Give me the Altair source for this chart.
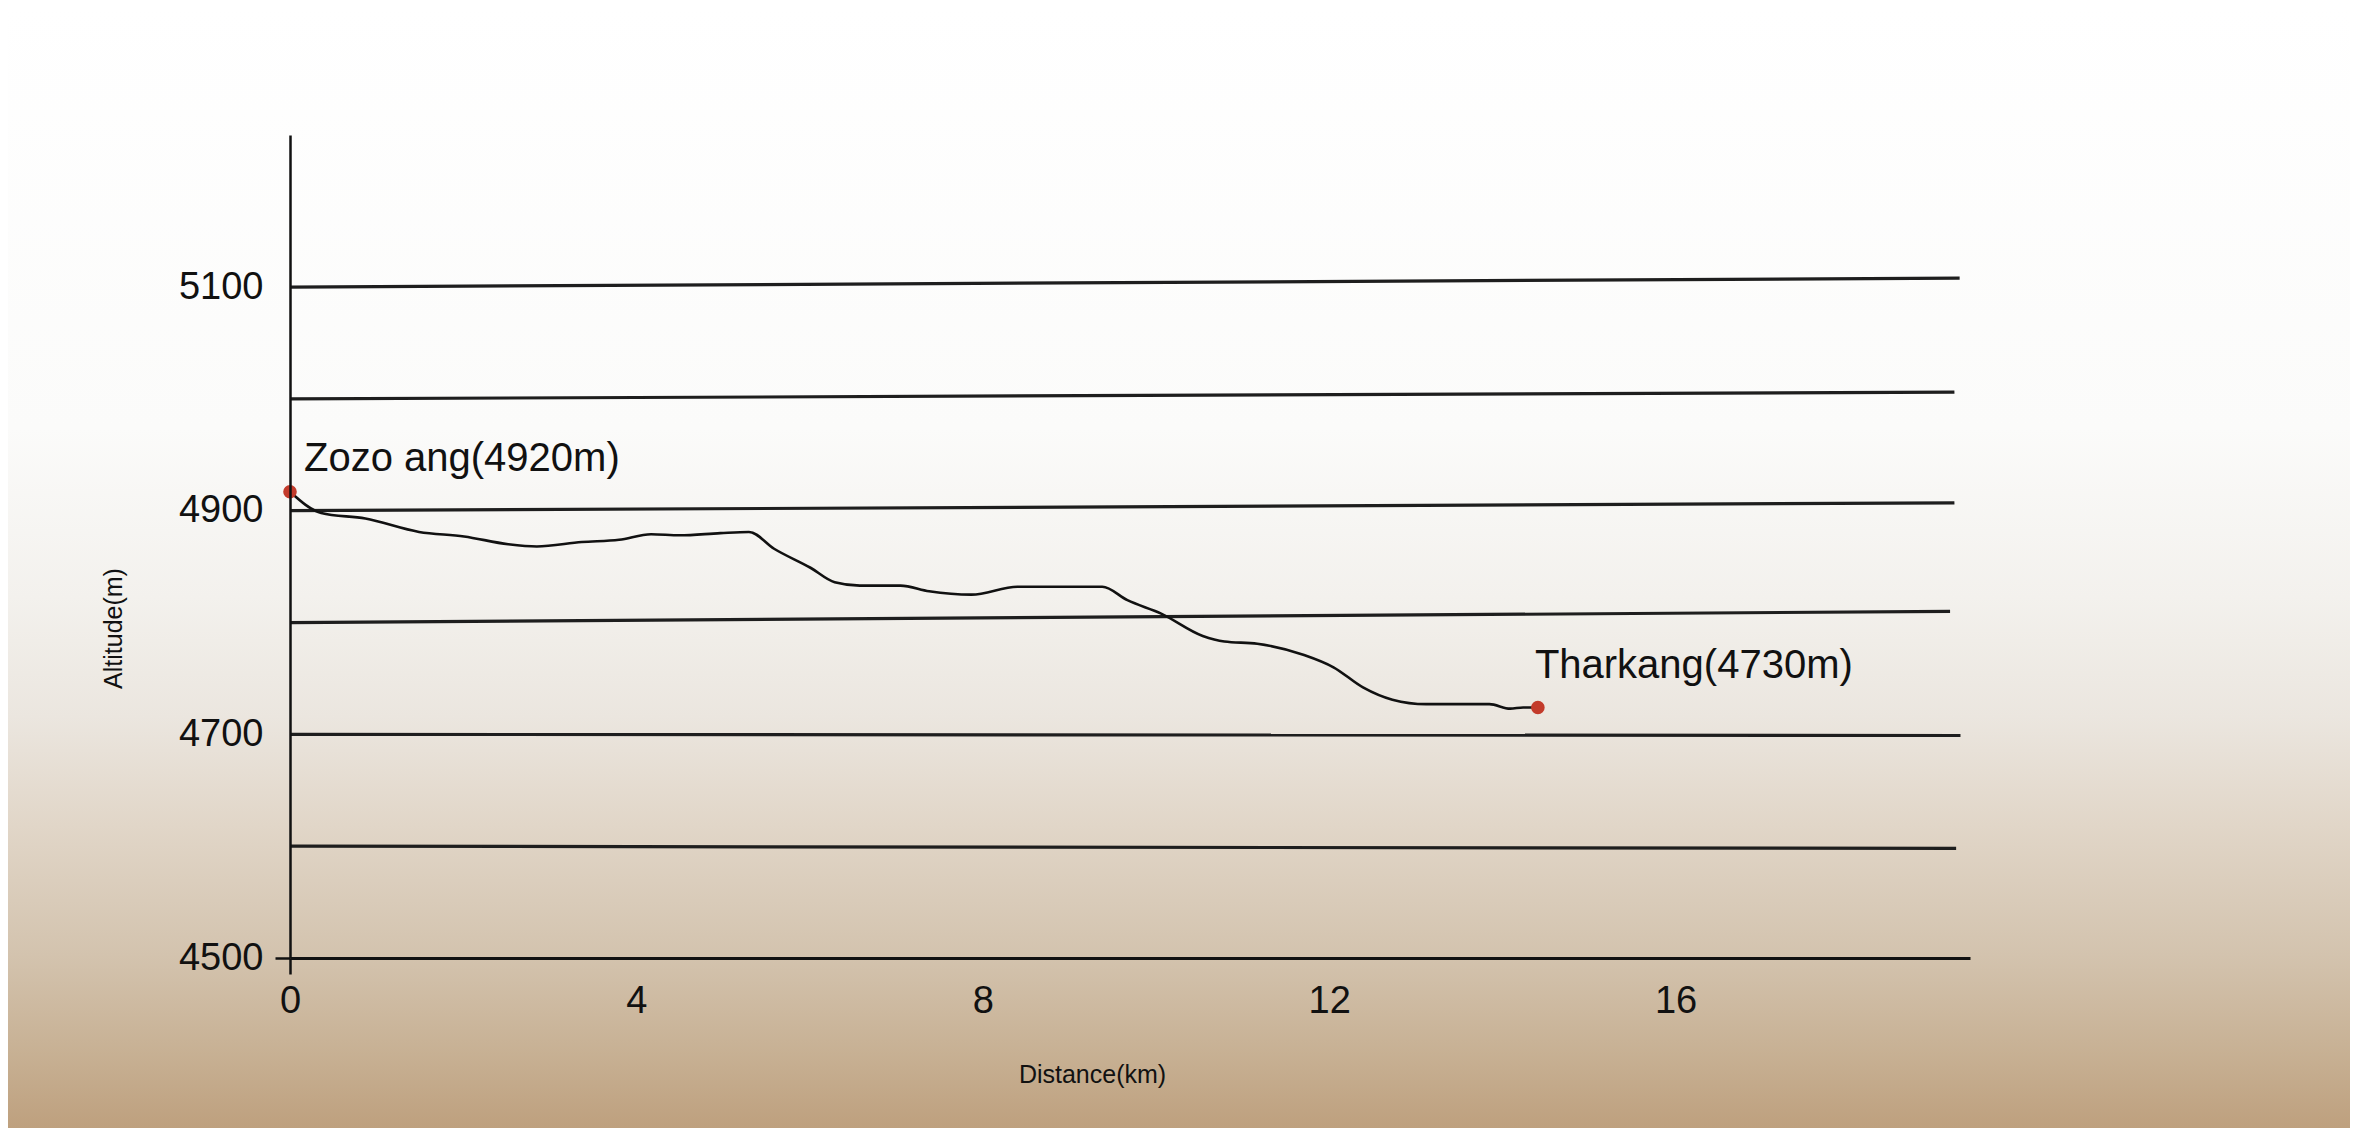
import altair as alt
import pandas as pd

# ---- data ----
distance_km = [0.0, 0.36, 0.87, 1.49, 2.01, 2.52, 2.85, 3.37, 3.80, 4.17, 4.50, 4.97,
               5.30, 5.59, 6.01, 6.29, 6.58, 7.05, 7.38, 7.87, 8.40, 9.38, 9.67, 10.06,
               10.54, 10.79, 11.17, 11.71, 12.05, 12.39, 12.73, 13.12, 13.85, 14.09,
               14.24, 14.41]
altitude_m = [4917, 4898, 4893, 4881, 4877, 4870, 4868, 4872, 4874, 4879, 4878, 4880,
              4881, 4866, 4849, 4836, 4833, 4833, 4828, 4825, 4832, 4832, 4820, 4808,
              4788, 4783, 4781, 4771, 4760, 4742, 4731, 4727, 4727, 4723,
              4724, 4724]

place_names = ["Zozo ang(4920m)", "Tharkang(4730m)"]
place_km = [0.0, 14.41]
place_alt = [4917, 4724]

grid_left_alt = [5100, 5000, 4900, 4800, 4700, 4600]
grid_right_alt = [5108, 5006, 4907, 4810, 4699, 4598]
grid_end_km = [19.28, 19.22, 19.22, 19.17, 19.29, 19.24]

x_ticks = [0, 4, 8, 12, 16]
y_ticks = [4500, 4700, 4900, 5100]

FONT = "Liberation Sans"
W, H = 1680, 823
PAD = {"left": 282, "top": 127, "right": 380, "bottom": 170}

profile = pd.DataFrame({"km": distance_km, "alt": altitude_m})
places = pd.DataFrame({"name": place_names, "km": place_km, "alt": place_alt})
grid = pd.DataFrame({"y1": grid_left_alt, "y2": grid_right_alt,
                     "x1": [0.0] * len(grid_left_alt), "x2": grid_end_km})

xscale = alt.Scale(domain=[0, 19.4], nice=False, zero=False)
yscale = alt.Scale(domain=[4500, 5236], nice=False, zero=False)

bg = alt.Chart(pd.DataFrame({"a": [0]})).mark_rect(
    fill=alt.LinearGradient(
        gradient="linear",
        stops=[
            alt.GradientStop(color="#ffffff", offset=0),
            alt.GradientStop(color="#fbfbfa", offset=0.375),
            alt.GradientStop(color="#f3f1ed", offset=0.526),
            alt.GradientStop(color="#ebe6df", offset=0.633),
            alt.GradientStop(color="#e1d6c8", offset=0.73),
            alt.GradientStop(color="#d3c3ae", offset=0.846),
            alt.GradientStop(color="#c7b093", offset=0.935),
            alt.GradientStop(color="#bea07e", offset=1),
        ],
        x1=0, x2=0, y1=0, y2=1,
    ),
    stroke=None,
).encode(
    x=alt.value(-PAD["left"]),
    x2=alt.value(W + PAD["right"]),
    y=alt.value(-PAD["top"]),
    y2=alt.value(H + PAD["bottom"]),
)

gridlines = alt.Chart(grid).mark_rule(color="#1e1e1e", strokeWidth=3.2).encode(
    x=alt.X("x1:Q", scale=xscale),
    x2="x2:Q",
    y=alt.Y("y1:Q", scale=yscale),
    y2="y2:Q",
)

line = alt.Chart(profile).mark_line(
    color="#111111", strokeWidth=2.6, interpolate="monotone"
).encode(
    x=alt.X(
        "km:Q",
        scale=xscale,
        axis=alt.Axis(
            values=x_ticks,
            format="d",
            grid=False,
            zindex=2,
            domainColor="#111111",
            domainWidth=3.2,
            ticks=True,
            tickSize=16,
            tickWidth=2.5,
            tickColor={"condition": {"test": "datum.value === 0", "value": "#111111"},
                       "value": "transparent"},
            labelFlush=False,
            labelPadding=8,
            labelFont=FONT,
            labelFontSize=38,
            labelColor="#111111",
            title="Distance(km)",
            titleFont=FONT,
            titleFontSize=25,
            titleFontWeight="normal",
            titleColor="#111111",
            titleX=802,
            titleY=116,
            titleAlign="center",
            titleBaseline="middle",
        ),
    ),
    y=alt.Y(
        "alt:Q",
        scale=yscale,
        axis=alt.Axis(
            values=y_ticks,
            format="d",
            grid=False,
            zindex=2,
            domainColor="#111111",
            domainWidth=2.5,
            ticks=True,
            tickSize=15,
            tickWidth=2.5,
            tickColor={"condition": {"test": "datum.value === 4500", "value": "#111111"},
                       "value": "transparent"},
            labelFlush=False,
            labelPadding=12,
            labelFont=FONT,
            labelFontSize=38,
            labelColor="#111111",
            title="Altitude(m)",
            titleFont=FONT,
            titleFontSize=25,
            titleFontWeight="normal",
            titleColor="#111111",
            titleAngle=270,
            titleX=-177,
            titleY=493,
            titleAlign="center",
            titleBaseline="middle",
        ),
    ),
)

points = alt.Chart(places).mark_circle(color="#c33b2b", size=185, opacity=1).encode(
    x=alt.X("km:Q", scale=xscale),
    y=alt.Y("alt:Q", scale=yscale),
)

label_start = alt.Chart(places.iloc[[0]]).mark_text(
    align="left", baseline="middle", dx=14, dy=-33,
    font=FONT, fontSize=40, color="#111111",
).encode(x=alt.X("km:Q", scale=xscale), y=alt.Y("alt:Q", scale=yscale), text="name:N")

label_end = alt.Chart(places.iloc[[1]]).mark_text(
    align="left", baseline="middle", dx=-3, dy=-42,
    font=FONT, fontSize=40, color="#111111",
).encode(x=alt.X("km:Q", scale=xscale), y=alt.Y("alt:Q", scale=yscale), text="name:N")

chart = alt.layer(bg, gridlines, line, points, label_start, label_end).properties(
    width=W,
    height=H,
    padding=PAD,
    autosize=alt.AutoSizeParams(type="none"),
    background="#ffffff",
).configure_view(stroke=None)

chart.save("out.html", embed_options={"renderer": "svg", "actions": False})
